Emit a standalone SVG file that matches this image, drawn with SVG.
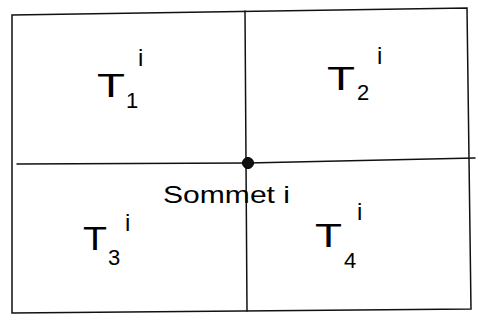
<svg xmlns="http://www.w3.org/2000/svg" width="478" height="326" viewBox="0 0 478 326">
<style>
.ln{fill:none;stroke:#111;stroke-width:1.5;stroke-linecap:round}
.big{font-family:"Liberation Sans",Arial,sans-serif;font-size:34px;fill:#000}
.sub{font-family:"Liberation Sans",Arial,sans-serif;font-size:22px;fill:#000}
.sup{font-family:"Liberation Sans",Arial,sans-serif;font-size:24px;fill:#000}
.lbl{font-family:"Liberation Sans",Arial,sans-serif;font-size:24px;fill:#000}
</style>
<rect width="478" height="326" fill="#fff"/>
<g id="connectors">
<path class="ln" d="M12,15 L467,8 L471,309 L12,313 Z"/>
<path class="ln" d="M245,11 L247,311"/>
<path class="ln" d="M17,164 L248,163 L475,158"/>
</g>
<g id="sommet-i">
<circle cx="248" cy="163" r="5.5" fill="#111" stroke="#000" stroke-width="1"/>
<text class="lbl" x="163" y="203" textLength="127" lengthAdjust="spacingAndGlyphs">Sommet i</text>
</g>
<g id="T1">
<text class="big" x="97" y="97" textLength="28" lengthAdjust="spacingAndGlyphs">T</text>
<text class="sub" x="126" y="108">1</text>
<text class="sup" x="138" y="66">i</text>
</g>
<g id="T2">
<text class="big" x="327" y="90" textLength="28" lengthAdjust="spacingAndGlyphs">T</text>
<text class="sub" x="357" y="100">2</text>
<text class="sup" x="377" y="64">i</text>
</g>
<g id="T3">
<text class="big" x="83" y="250" textLength="24" lengthAdjust="spacingAndGlyphs">T</text>
<text class="sub" x="108" y="265">3</text>
<text class="sup" x="125" y="231">i</text>
</g>
<g id="T4">
<text class="big" x="315" y="247" textLength="27" lengthAdjust="spacingAndGlyphs">T</text>
<text class="sub" x="344" y="268">4</text>
<text class="sup" x="357" y="220">i</text>
</g>
</svg>
